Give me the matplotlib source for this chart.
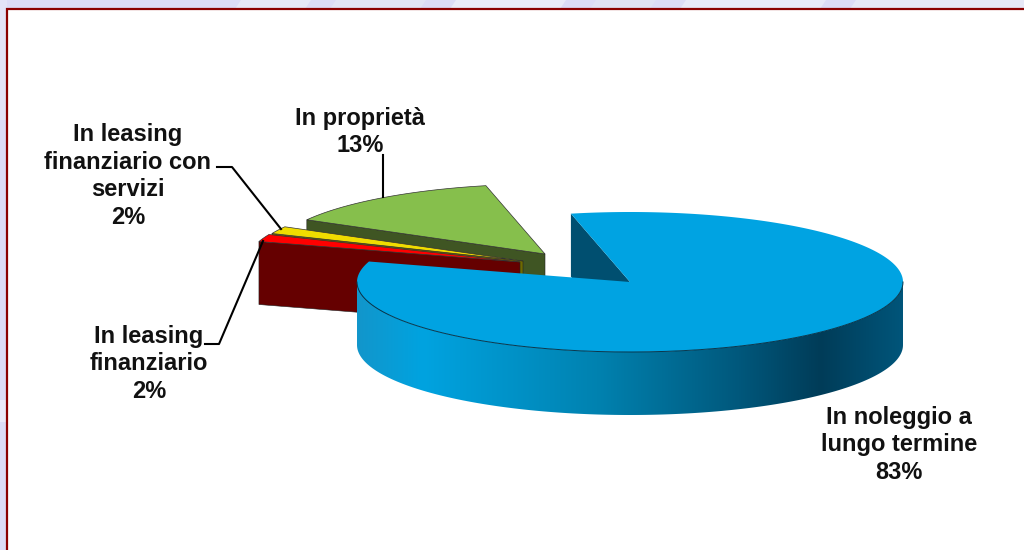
import numpy as np
import matplotlib
matplotlib.use('Agg')
import matplotlib.pyplot as plt
from matplotlib.colors import LinearSegmentedColormap
from matplotlib.patches import Polygon, Rectangle

plt.rcParams['font.family'] = ['Liberation Sans', 'DejaVu Sans']

# clockwise from the first slice
categories = ['In noleggio a\nlungo termine', 'In leasing\nfinanziario',
              'In leasing\nfinanziario con\nservizi', 'In proprietà']
values = [83.2, 1.7, 1.7, 13.4]
top_colors = ['#00a3e2', '#ff0000', '#f0dc00', '#86bf4c']
side_colors = ['#004f70', '#650000', '#6e6a00', '#3f5523']

# pie geometry in pixels
cx, cy, rx, ry = 630, 282, 273, 70
depth = 63
start_angle = -12.5
offsets = [(0, 0), (-110, -20), (-107, -21), (-85, -28)]
label_pos = [(899, 445), (149, 364), (128, 176), (360, 132)]


def rim(deg, off=(0, 0)):
    t = np.radians(deg)
    return np.column_stack([cx + off[0] + rx * np.sin(t), cy + off[1] - ry * np.cos(t)])


fig = plt.figure(figsize=(10.24, 5.5), dpi=100, facecolor='#dcdcf6')
ax = fig.add_axes([0, 0, 1, 1])
ax.set_axis_off()

# washed out background streaks above the frame
for x0, w, col in [(235, 70, '#e6e8f7'), (330, 90, '#e2e4f5'), (450, 110, '#eaebf8'),
                   (590, 60, '#e0e2f4'), (680, 140, '#e8e9f8'), (850, 174, '#e6e8f6')]:
    ax.add_patch(Polygon([(x0 + 6, 0), (x0 + w + 6, 0), (x0 + w, 9), (x0, 9)], fc=col, ec='none'))
ax.add_patch(Rectangle((0, 0), 7, 120, fc='#e3e3f7', ec='none'))
ax.add_patch(Rectangle((0, 400), 7, 22, fc='#eaeaf9', ec='none'))

# chart frame, runs off the right and bottom of the picture
ax.add_patch(Rectangle((7, 9), 1100, 700, fc='white', ec='#8b0000', lw=1.6))

# slices at the back first, the big one last
angles = start_angle + np.cumsum([0] + values) * 3.6
for i in [3, 2, 1]:
    a0, a1 = angles[i], angles[i + 1]
    off = offsets[i]
    apex = np.array([[cx + off[0], cy + off[1]]])
    outer = rim(a0, off)
    cut = np.vstack([outer, apex, apex + [0, depth], outer + [0, depth]])
    ax.add_patch(Polygon(cut, fc=side_colors[i], ec='#222222', lw=0.4))
    arc = rim(np.linspace(a0, a1, 30), off)
    ax.add_patch(Polygon(np.vstack([apex, arc]), fc=top_colors[i], ec='#333333', lw=0.5))

# big slice: inner cut face, shaded wall, top
a0, a1 = angles[0], angles[1]
apex = np.array([[cx, cy]])
outer = rim(a0)
ax.add_patch(Polygon(np.vstack([outer, apex, apex + [0, depth], outer + [0, depth]]),
                     fc=side_colors[0], ec='none'))

wall_top = rim(np.linspace(90, 270, 200))
wall = Polygon(np.vstack([wall_top, wall_top[::-1] + [0, depth]]), fc='none', ec='none')
ax.add_patch(wall)
stops = [(0.0, '#1296cb'), (0.12, '#00a3e0'), (0.44, '#0082b0'), (0.70, '#00587c'),
         (0.85, '#003c58'), (1.0, '#00557a')]
shade = LinearSegmentedColormap.from_list('wall', stops)
img = ax.imshow(np.linspace(0, 1, 256)[None, :], cmap=shade, aspect='auto', zorder=1,
                extent=(cx - rx, cx + rx, cy + ry + depth, cy))
img.set_clip_path(wall)

arc = rim(np.linspace(a0, a1, 300))
ax.add_patch(Polygon(np.vstack([apex, arc]), fc=top_colors[0], ec='none'))
front = rim(np.linspace(90, 270, 200))
ax.plot(front[:, 0], front[:, 1], color='#07364c', lw=0.7)

# leader lines
ax.plot([383, 383], [155, 197], color='black', lw=1.5)
ax.plot([217, 232, 281], [167, 167, 229], color='black', lw=1.5)
ax.plot([205, 219, 263], [344, 344, 241], color='black', lw=1.5)

for name, val, (x, y) in zip(categories, values, label_pos):
    ax.text(x, y, f'{name}\n{round(val)}%', ha='center', va='center', ma='center',
            fontsize=17, fontweight='bold', color='#111111', linespacing=1.26)

ax.set_xlim(0, 1024)
ax.set_ylim(550, 0)
fig.savefig('out.png', dpi=100, facecolor=fig.get_facecolor())
